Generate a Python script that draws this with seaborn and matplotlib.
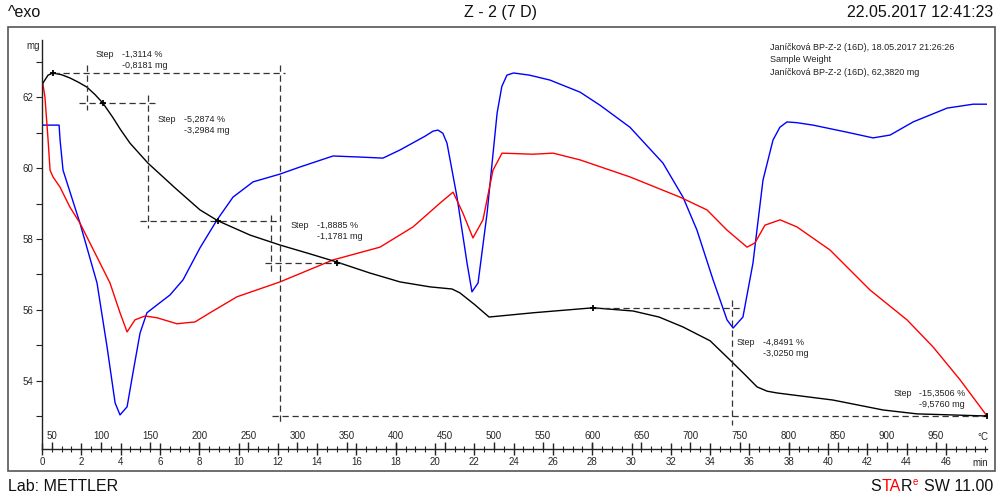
import numpy as np
import pandas as pd
import matplotlib
matplotlib.use('Agg')
import matplotlib.pyplot as plt
import seaborn as sns
from matplotlib.patches import Rectangle

# ---- data (time in min, values on the mg scale) ----
# TGA curve (black)
tga_time = [0.04, 0.31, 0.56, 1.0, 1.42, 1.85, 2.29, 2.70, 3.10, 3.60, 4.00, 4.48,
            5.39, 6.77, 8.04, 8.96, 10.59, 12.11, 13.64, 15.01, 16.69, 18.22, 19.75,
            20.87, 21.27, 22.04, 22.75, 24.99, 28.04, 30.08, 31.40, 32.62, 34.0,
            35.01, 35.80, 36.39, 36.90, 37.40, 40.25, 42.80, 44.53, 48.09]
tga_mass = [62.39, 62.62, 62.68, 62.63, 62.54, 62.42, 62.28, 62.07, 61.83, 61.43,
            61.08, 60.70, 60.14, 59.44, 58.82, 58.51, 58.11, 57.83, 57.58, 57.35,
            57.04, 56.79, 56.65, 56.59, 56.48, 56.14, 55.80, 55.92, 56.06, 55.97,
            55.80, 55.52, 55.13, 54.59, 54.16, 53.83, 53.71, 53.66, 53.46, 53.18,
            53.07, 53.01]

# red curve
red_time = [0.04, 0.15, 0.31, 0.41, 0.56, 0.92, 1.42, 1.93, 2.80, 3.46, 3.97, 4.33,
            4.73, 5.24, 5.85, 6.87, 7.38, 7.78, 8.55, 9.92, 12.11, 14.81, 17.20,
            18.88, 20.25, 20.92, 21.42, 21.93, 22.44, 22.95, 23.41, 24.99, 26.01,
            27.38, 29.92, 32.47, 33.84, 34.86, 35.88, 36.28, 36.79, 37.56, 38.42,
            40.10, 42.14, 44.02, 45.34, 46.72, 48.09]
red_val = [62.39, 62.00, 60.79, 59.94, 59.75, 59.46, 58.90, 58.45, 57.49, 56.76,
           55.92, 55.38, 55.72, 55.83, 55.78, 55.61, 55.64, 55.66, 55.92, 56.37,
           56.79, 57.41, 57.77, 58.34, 59.01, 59.32, 58.73, 58.03, 58.54, 59.94,
           60.42, 60.39, 60.42, 60.23, 59.75, 59.18, 58.82, 58.25, 57.77, 57.89,
           58.39, 58.54, 58.34, 57.69, 56.56, 55.72, 54.96, 54.03, 53.01]

# blue curve
blue_time = [0.04, 0.87, 0.92, 1.07, 1.93, 2.80, 3.31, 3.72, 3.97, 4.33, 4.63, 4.99,
             5.34, 5.85, 6.51, 7.18, 8.04, 8.91, 9.72, 10.74, 12.11, 13.13, 14.81,
             16.18, 17.35, 18.22, 19.50, 19.90, 20.15, 20.40, 20.61, 21.12, 21.63,
             21.88, 22.19, 22.65, 23.16, 23.40, 23.66, 24.00, 24.80, 25.85, 27.38,
             28.40, 29.92, 31.60, 32.62, 33.33, 34.15, 34.86, 35.17, 35.67, 36.18,
             36.69, 37.20, 37.55, 37.91, 38.40, 39.24, 40.97, 42.29, 43.16, 44.33,
             46.06, 47.38, 48.14]
blue_val = [61.21, 61.21, 60.79, 59.94, 58.45, 56.76, 54.96, 53.38, 53.04, 53.27,
            54.23, 55.35, 55.92, 56.14, 56.42, 56.85, 57.75, 58.54, 59.18, 59.61,
            59.83, 60.03, 60.34, 60.31, 60.28, 60.51, 60.90, 61.04, 61.07, 60.98,
            60.70, 59.18, 57.32, 56.51, 56.76, 58.73, 61.55, 62.30, 62.62, 62.68,
            62.62, 62.48, 62.14, 61.77, 61.15, 60.14, 59.18, 58.25, 56.85, 55.72,
            55.49, 55.80, 57.32, 59.66, 60.79, 61.15, 61.30, 61.28, 61.21, 61.01,
            60.85, 60.93, 61.30, 61.69, 61.80, 61.80]

# step evaluations
step_pct = ['-1,3114 %', '-5,2874 %', '-1,8885 %', '-4,8491 %', '-15,3506 %']
step_mg = ['-0,8181 mg', '-3,2984 mg', '-1,1781 mg', '-3,0250 mg', '-9,5760 mg']
step_mark_t = [0.56, 3.10, 8.96, 15.01, 28.04, 48.09]
step_mark_m = [62.68, 61.83, 58.51, 57.32, 56.06, 53.01]

# axes ticks
time_ticks = [0, 2, 4, 6, 8, 10, 12, 14, 16, 18, 20, 22, 24, 26, 28, 30, 32, 34,
              36, 38, 40, 42, 44, 46]
temp_ticks = [50, 100, 150, 200, 250, 300, 350, 400, 450, 500, 550, 600, 650, 700,
              750, 800, 850, 900, 950]
mass_ticks = [54, 56, 58, 60, 62]
mass_minor = [53, 55, 57, 59, 61, 63]

info_lines = ['Janíčková BP-Z-2 (16D), 18.05.2017 21:26:26',
              'Sample Weight',
              'Janíčková BP-Z-2 (16D), 62,3820 mg']


def t_from_T(T):
    return (np.asarray(T, dtype=float) - 40.0) / 20.0


def T_from_t(t):
    return np.asarray(t, dtype=float) * 20.0 + 40.0


sns.set_theme(style='white')
plt.rcParams['font.family'] = ['Liberation Sans', 'DejaVu Sans']

fig = plt.figure(figsize=(10, 4.98), dpi=100)
ax = fig.add_axes([0.042, 0.0984, 0.945, 0.8213])

curves = [
    (blue_time, blue_val, '#0000ff'),
    (red_time, red_val, '#ff0000'),
    (tga_time, tga_mass, 'black'),
]
for tt, vv, col in curves:
    df = pd.DataFrame({'t': tt, 'v': vv})
    sns.lineplot(data=df, x='t', y='v', color=col, lw=1.0, ax=ax,
                 estimator=None, sort=False)

# dashed construction lines of the step evaluation
dash = dict(color='#333333', lw=0.9, ls=(0, (5, 3)))
ax.plot([0.56, 12.37], [62.68, 62.68], **dash)
ax.plot([12.11, 12.11], [62.90, 52.85], **dash)
ax.plot([2.29, 2.29], [62.90, 61.63], **dash)
ax.plot([1.88, 5.75], [61.83, 61.83], **dash)
ax.plot([5.39, 5.39], [62.06, 58.31], **dash)
ax.plot([4.99, 12.0], [58.51, 58.51], **dash)
ax.plot([11.65, 11.65], [58.68, 57.07], **dash)
ax.plot([11.35, 15.42], [57.32, 57.32], **dash)
ax.plot([28.04, 35.52], [56.06, 56.06], **dash)
ax.plot([35.11, 35.11], [56.28, 52.76], **dash)
ax.plot([11.70, 48.24], [53.01, 53.01], **dash)
ax.plot(step_mark_t, step_mark_m, ls='none', marker='+', ms=5, mew=1.3, color='black')

# step texts
step_pos = [(2.75, 4.07, 63.32), (5.90, 7.23, 61.49), (12.67, 14.0, 58.51),
            (35.37, 36.69, 55.21), (43.31, 44.63, 53.77)]
for (xs, xv, yy), p, m in zip(step_pos, step_pct, step_mg):
    ax.text(xs, yy, 'Step', fontsize=6.5, va='top', ha='left', color='#222222')
    ax.text(xv, yy, p + '\n' + m, fontsize=6.5, va='top', ha='left',
            linespacing=1.25, color='#222222')

ax.set_xlim(0, 48.09)
ax.set_ylim(52.08, 63.61)
ax.set_xlabel('')
ax.set_ylabel('')
for s in ['top', 'right']:
    ax.spines[s].set_visible(False)
for s in ['left', 'bottom']:
    ax.spines[s].set_color('#222222')
    ax.spines[s].set_linewidth(1.0)

ax.set_xticks(time_ticks)
ax.set_xticks(np.arange(0, 48.01, 0.5), minor=True)
ax.set_xticklabels([str(v) for v in time_ticks])
ax.tick_params(axis='x', which='major', direction='inout', length=8, width=1,
               labelsize=7, pad=2, color='#222222', bottom=True)
ax.tick_params(axis='x', which='minor', direction='inout', length=5, width=0.8,
               color='#222222', bottom=True)
ax.set_yticks(mass_ticks)
ax.set_yticks(mass_minor, minor=True)
ax.set_yticklabels([str(v) for v in mass_ticks])
ax.tick_params(axis='y', which='both', direction='out', length=4, width=0.8,
               labelsize=7, pad=2, color='#222222', left=True)

# temperature scale drawn above the time ruler
sec = ax.secondary_xaxis(0.0, functions=(T_from_t, t_from_T))
sec.set_alignment('top')
sec.set_xticks(temp_ticks)
sec.set_xticklabels([str(v) for v in temp_ticks])
sec.tick_params(axis='x', direction='out', length=5, width=1, labelsize=7, pad=1,
                color='#222222')
sec.spines['top'].set_visible(False)

fig.text(0.983, 0.123, '°C', fontsize=7, ha='center', va='center')
fig.text(0.980, 0.070, 'min', fontsize=7, ha='center', va='center')
fig.text(0.033, 0.908, 'mg', fontsize=7, ha='center', va='center')

for i, line in enumerate(info_lines):
    fig.text(0.770, 0.914 - i * 0.025, line, fontsize=6.5, ha='left', va='top',
             color='#222222')

# outer frame
fig.patches.append(Rectangle((0.008, 0.054), 0.987, 0.892, transform=fig.transFigure,
                             fill=False, ec='#555555', lw=1.2))

# header and footer
hdr = dict(fontsize=11.5, va='center', color='#111111')
fig.text(0.008, 0.974, '^exo', ha='left', **hdr)
fig.text(0.500, 0.974, 'Z - 2 (7 D)', ha='center', **hdr)
fig.text(0.993, 0.974, '22.05.2017 12:41:23', ha='right', **hdr)
fig.text(0.008, 0.024, 'Lab: METTLER', ha='left', **hdr)

# STAR(e) SW 11.00 logo, built right to left
t_sw = fig.text(0.993, 0.024, 'SW 11.00', ha='right', **hdr)
t_e = ax.annotate('e', xy=(0, 0.45), xycoords=t_sw, xytext=(-4, 0),
                  textcoords='offset points', ha='right', va='bottom',
                  fontsize=7, color='#ff0000', annotation_clip=False)
t_r = ax.annotate('R', xy=(0, 0), xycoords=(t_e, t_sw), xytext=(-0.5, 0),
                  textcoords='offset points', ha='right', va='bottom',
                  fontsize=11.5, color='#111111', annotation_clip=False)
t_ta = ax.annotate('TA', xy=(0, 0), xycoords=t_r, ha='right', va='bottom',
                   fontsize=11.5, color='#ff0000', annotation_clip=False)
ax.annotate('S', xy=(0, 0), xycoords=t_ta, ha='right', va='bottom',
            fontsize=11.5, color='#111111', annotation_clip=False)

fig.savefig('out.png', dpi=100)
